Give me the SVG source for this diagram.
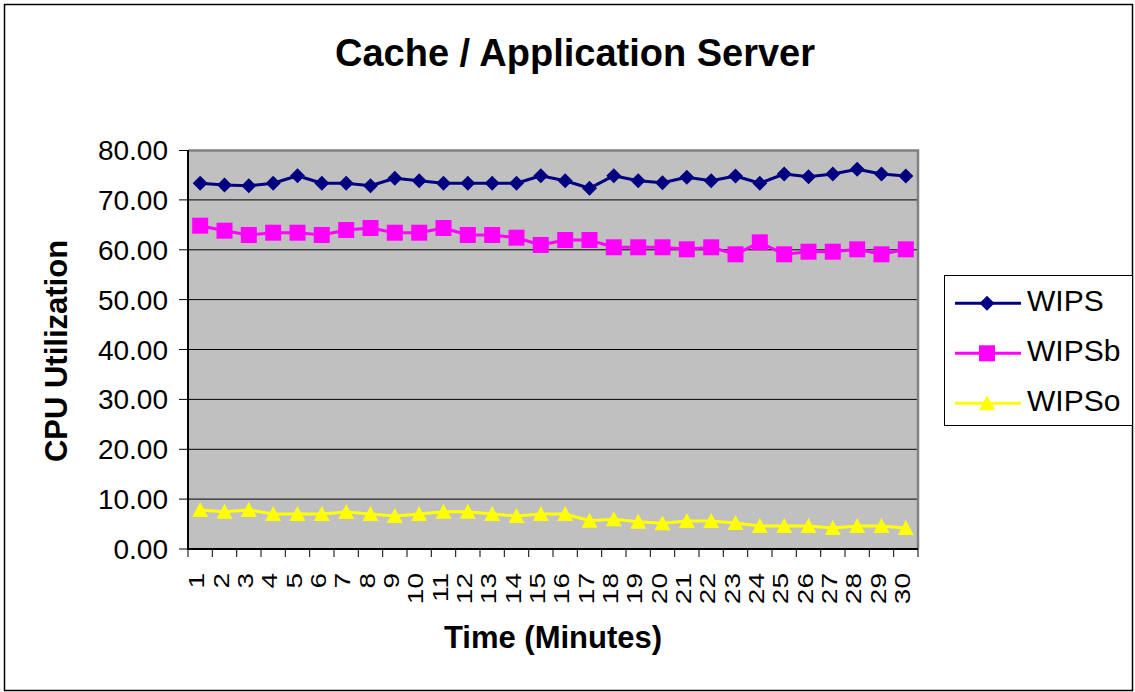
<svg xmlns="http://www.w3.org/2000/svg" xmlns:xlink="http://www.w3.org/1999/xlink" width="1135" height="692" viewBox="0 0 1135 692">
  <style>
    .t { font-family: "Liberation Sans", Arial, sans-serif; fill: #000; }
    .title { font-size: 38px; font-weight: bold; }
    .axt { font-size: 31px; font-weight: bold; }
    .ylab { font-size: 28px; text-anchor: end; }
    .xlab { font-size: 28px; text-anchor: end; }
    .leg { font-size: 30px; }
    .grid { stroke: #000; stroke-width: 1; }
    .tick { stroke: #000; stroke-width: 1; }
    .s1 { fill: none; stroke: #000080; stroke-width: 3; stroke-linejoin: round; }
    .s2 { fill: none; stroke: #FF00FF; stroke-width: 3; stroke-linejoin: round; }
    .s3 { fill: none; stroke: #FFFF00; stroke-width: 3; stroke-linejoin: round; }
  </style>
  <defs>
    <path id="diamond" d="M0,-7.5 L7.5,0 L0,7.5 L-7.5,0 Z" fill="#000080"/>
    <rect id="square" x="-8" y="-8" width="16" height="16" fill="#FF00FF"/>
    <path id="tri" d="M0,-8 L8,7 L-8,7 Z" fill="#FFFF00"/>
  </defs>

  <!-- chart frame -->
  <rect x="0" y="0" width="1135" height="692" fill="#fff"/>
  <rect x="4.5" y="4.5" width="1128" height="686" fill="#fff" stroke="#000" stroke-width="1.5"/>

  <!-- title -->
  <text class="t title" x="575" y="66" text-anchor="middle">Cache / Application Server</text>

  <!-- plot area -->
  <g id="plot-area">
    <rect x="188" y="150" width="730" height="399" fill="#C0C0C0"/>
    <g class="grid">
      <line x1="188" y1="199.9" x2="918" y2="199.9"/>
      <line x1="188" y1="249.8" x2="918" y2="249.8"/>
      <line x1="188" y1="299.6" x2="918" y2="299.6"/>
      <line x1="188" y1="349.5" x2="918" y2="349.5"/>
      <line x1="188" y1="399.4" x2="918" y2="399.4"/>
      <line x1="188" y1="449.3" x2="918" y2="449.3"/>
      <line x1="188" y1="499.1" x2="918" y2="499.1"/>
    </g>
    <path d="M188,150.5 H918 V549" fill="none" stroke="#808080" stroke-width="2.5"/>
  </g>

  <!-- axes -->
  <g id="y-axis">
    <line x1="188" y1="150" x2="188" y2="549.5" stroke="#000" stroke-width="2"/>
    <g class="tick">
      <line x1="179" y1="150.5" x2="188" y2="150.5"/>
      <line x1="179" y1="199.9" x2="188" y2="199.9"/>
      <line x1="179" y1="249.8" x2="188" y2="249.8"/>
      <line x1="179" y1="299.6" x2="188" y2="299.6"/>
      <line x1="179" y1="349.5" x2="188" y2="349.5"/>
      <line x1="179" y1="399.4" x2="188" y2="399.4"/>
      <line x1="179" y1="449.3" x2="188" y2="449.3"/>
      <line x1="179" y1="499.1" x2="188" y2="499.1"/>
      <line x1="179" y1="549" x2="188" y2="549"/>
    </g>
    <g class="t ylab">
      <text x="168" y="160">80.00</text>
      <text x="168" y="209.9">70.00</text>
      <text x="168" y="259.8">60.00</text>
      <text x="168" y="309.6">50.00</text>
      <text x="168" y="359.5">40.00</text>
      <text x="168" y="409.4">30.00</text>
      <text x="168" y="459.3">20.00</text>
      <text x="168" y="509.1">10.00</text>
      <text x="168" y="559">0.00</text>
    </g>
    <text class="t axt" transform="translate(67,351) rotate(-90)" text-anchor="middle">CPU Utilization</text>
  </g>

  <g id="x-axis">
    <line x1="187" y1="549" x2="918" y2="549" stroke="#000" stroke-width="2"/>
    <path class="tick" d="M188,549v8 M212.3,549v8 M236.7,549v8 M261,549v8 M285.3,549v8 M309.7,549v8 M334,549v8 M358.3,549v8 M382.7,549v8 M407,549v8 M431.3,549v8 M455.7,549v8 M480,549v8 M504.3,549v8 M528.7,549v8 M553,549v8 M577.3,549v8 M601.7,549v8 M626,549v8 M650.3,549v8 M674.7,549v8 M699,549v8 M723.3,549v8 M747.7,549v8 M772,549v8 M796.3,549v8 M820.7,549v8 M845,549v8 M869.3,549v8 M893.7,549v8 M918,549v8"/>
    <g class="t xlab">
      <text transform="translate(204.2,573) rotate(-90) scale(1,0.78)">1</text>
      <text transform="translate(228.5,573) rotate(-90) scale(1,0.78)">2</text>
      <text transform="translate(252.8,573) rotate(-90) scale(1,0.78)">3</text>
      <text transform="translate(277.2,573) rotate(-90) scale(1,0.78)">4</text>
      <text transform="translate(301.5,573) rotate(-90) scale(1,0.78)">5</text>
      <text transform="translate(325.8,573) rotate(-90) scale(1,0.78)">6</text>
      <text transform="translate(350.2,573) rotate(-90) scale(1,0.78)">7</text>
      <text transform="translate(374.5,573) rotate(-90) scale(1,0.78)">8</text>
      <text transform="translate(398.8,573) rotate(-90) scale(1,0.78)">9</text>
      <text transform="translate(423.2,573) rotate(-90) scale(1,0.78)">10</text>
      <text transform="translate(447.5,573) rotate(-90) scale(1,0.78)">11</text>
      <text transform="translate(471.8,573) rotate(-90) scale(1,0.78)">12</text>
      <text transform="translate(496.2,573) rotate(-90) scale(1,0.78)">13</text>
      <text transform="translate(520.5,573) rotate(-90) scale(1,0.78)">14</text>
      <text transform="translate(544.8,573) rotate(-90) scale(1,0.78)">15</text>
      <text transform="translate(569.2,573) rotate(-90) scale(1,0.78)">16</text>
      <text transform="translate(593.5,573) rotate(-90) scale(1,0.78)">17</text>
      <text transform="translate(617.8,573) rotate(-90) scale(1,0.78)">18</text>
      <text transform="translate(642.2,573) rotate(-90) scale(1,0.78)">19</text>
      <text transform="translate(666.5,573) rotate(-90) scale(1,0.78)">20</text>
      <text transform="translate(690.8,573) rotate(-90) scale(1,0.78)">21</text>
      <text transform="translate(715.2,573) rotate(-90) scale(1,0.78)">22</text>
      <text transform="translate(739.5,573) rotate(-90) scale(1,0.78)">23</text>
      <text transform="translate(763.8,573) rotate(-90) scale(1,0.78)">24</text>
      <text transform="translate(788.2,573) rotate(-90) scale(1,0.78)">25</text>
      <text transform="translate(812.5,573) rotate(-90) scale(1,0.78)">26</text>
      <text transform="translate(836.8,573) rotate(-90) scale(1,0.78)">27</text>
      <text transform="translate(861.2,573) rotate(-90) scale(1,0.78)">28</text>
      <text transform="translate(885.5,573) rotate(-90) scale(1,0.78)">29</text>
      <text transform="translate(909.8,573) rotate(-90) scale(1,0.78)">30</text>
    </g>
    <text class="t axt" x="553" y="648" text-anchor="middle">Time (Minutes)</text>
  </g>

  <!-- data series -->
  <g id="series-wips">
    <polyline class="s1" points="200.2,183.3 224.5,185 248.8,185.7 273.2,183.3 297.5,175.7 321.8,183.3 346.2,183.3 370.5,185.7 394.8,178.3 419.2,180.7 443.5,183.3 467.8,183.3 492.2,183.3 516.5,183.3 540.8,175.7 565.2,180.7 589.5,188.3 613.8,175.7 638.2,180.7 662.5,182.7 686.8,177.3 711.2,180.7 735.5,176 759.8,183.3 784.2,174 808.5,176.7 832.8,174 857.2,169.3 881.5,174 905.8,176"/>
    <use xlink:href="#diamond" x="200.2" y="183.3"/><use xlink:href="#diamond" x="224.5" y="185"/>
    <use xlink:href="#diamond" x="248.8" y="185.7"/><use xlink:href="#diamond" x="273.2" y="183.3"/>
    <use xlink:href="#diamond" x="297.5" y="175.7"/><use xlink:href="#diamond" x="321.8" y="183.3"/>
    <use xlink:href="#diamond" x="346.2" y="183.3"/><use xlink:href="#diamond" x="370.5" y="185.7"/>
    <use xlink:href="#diamond" x="394.8" y="178.3"/><use xlink:href="#diamond" x="419.2" y="180.7"/>
    <use xlink:href="#diamond" x="443.5" y="183.3"/><use xlink:href="#diamond" x="467.8" y="183.3"/>
    <use xlink:href="#diamond" x="492.2" y="183.3"/><use xlink:href="#diamond" x="516.5" y="183.3"/>
    <use xlink:href="#diamond" x="540.8" y="175.7"/><use xlink:href="#diamond" x="565.2" y="180.7"/>
    <use xlink:href="#diamond" x="589.5" y="188.3"/><use xlink:href="#diamond" x="613.8" y="175.7"/>
    <use xlink:href="#diamond" x="638.2" y="180.7"/><use xlink:href="#diamond" x="662.5" y="182.7"/>
    <use xlink:href="#diamond" x="686.8" y="177.3"/><use xlink:href="#diamond" x="711.2" y="180.7"/>
    <use xlink:href="#diamond" x="735.5" y="176"/><use xlink:href="#diamond" x="759.8" y="183.3"/>
    <use xlink:href="#diamond" x="784.2" y="174"/><use xlink:href="#diamond" x="808.5" y="176.7"/>
    <use xlink:href="#diamond" x="832.8" y="174"/><use xlink:href="#diamond" x="857.2" y="169.3"/>
    <use xlink:href="#diamond" x="881.5" y="174"/><use xlink:href="#diamond" x="905.8" y="176"/>
  </g>

  <g id="series-wipsb">
    <polyline class="s2" points="200.2,225.7 224.5,230.7 248.8,235 273.2,232.7 297.5,232.7 321.8,235 346.2,230 370.5,228 394.8,232.7 419.2,232.7 443.5,228 467.8,235 492.2,235 516.5,237.7 540.8,245 565.2,240 589.5,240 613.8,247.3 638.2,247.3 662.5,247.3 686.8,249.3 711.2,247.3 735.5,254.3 759.8,242.3 784.2,254.3 808.5,251.7 832.8,251.7 857.2,249.3 881.5,254.3 905.8,249.3"/>
    <use xlink:href="#square" x="200.2" y="225.7"/><use xlink:href="#square" x="224.5" y="230.7"/>
    <use xlink:href="#square" x="248.8" y="235"/><use xlink:href="#square" x="273.2" y="232.7"/>
    <use xlink:href="#square" x="297.5" y="232.7"/><use xlink:href="#square" x="321.8" y="235"/>
    <use xlink:href="#square" x="346.2" y="230"/><use xlink:href="#square" x="370.5" y="228"/>
    <use xlink:href="#square" x="394.8" y="232.7"/><use xlink:href="#square" x="419.2" y="232.7"/>
    <use xlink:href="#square" x="443.5" y="228"/><use xlink:href="#square" x="467.8" y="235"/>
    <use xlink:href="#square" x="492.2" y="235"/><use xlink:href="#square" x="516.5" y="237.7"/>
    <use xlink:href="#square" x="540.8" y="245"/><use xlink:href="#square" x="565.2" y="240"/>
    <use xlink:href="#square" x="589.5" y="240"/><use xlink:href="#square" x="613.8" y="247.3"/>
    <use xlink:href="#square" x="638.2" y="247.3"/><use xlink:href="#square" x="662.5" y="247.3"/>
    <use xlink:href="#square" x="686.8" y="249.3"/><use xlink:href="#square" x="711.2" y="247.3"/>
    <use xlink:href="#square" x="735.5" y="254.3"/><use xlink:href="#square" x="759.8" y="242.3"/>
    <use xlink:href="#square" x="784.2" y="254.3"/><use xlink:href="#square" x="808.5" y="251.7"/>
    <use xlink:href="#square" x="832.8" y="251.7"/><use xlink:href="#square" x="857.2" y="249.3"/>
    <use xlink:href="#square" x="881.5" y="254.3"/><use xlink:href="#square" x="905.8" y="249.3"/>
  </g>

  <g id="series-wipso">
    <polyline class="s3" points="200.2,510 224.5,511.7 248.8,510 273.2,514 297.5,514 321.8,514 346.2,512 370.5,514 394.8,516 419.2,514 443.5,511.7 467.8,511.7 492.2,514 516.5,516 540.8,514 565.2,514 589.5,520.7 613.8,519.3 638.2,521.7 662.5,523.3 686.8,521 711.2,521 735.5,523 759.8,526 784.2,526 808.5,526 832.8,528 857.2,526 881.5,526 905.8,528"/>
    <use xlink:href="#tri" x="200.2" y="510"/><use xlink:href="#tri" x="224.5" y="511.7"/>
    <use xlink:href="#tri" x="248.8" y="510"/><use xlink:href="#tri" x="273.2" y="514"/>
    <use xlink:href="#tri" x="297.5" y="514"/><use xlink:href="#tri" x="321.8" y="514"/>
    <use xlink:href="#tri" x="346.2" y="512"/><use xlink:href="#tri" x="370.5" y="514"/>
    <use xlink:href="#tri" x="394.8" y="516"/><use xlink:href="#tri" x="419.2" y="514"/>
    <use xlink:href="#tri" x="443.5" y="511.7"/><use xlink:href="#tri" x="467.8" y="511.7"/>
    <use xlink:href="#tri" x="492.2" y="514"/><use xlink:href="#tri" x="516.5" y="516"/>
    <use xlink:href="#tri" x="540.8" y="514"/><use xlink:href="#tri" x="565.2" y="514"/>
    <use xlink:href="#tri" x="589.5" y="520.7"/><use xlink:href="#tri" x="613.8" y="519.3"/>
    <use xlink:href="#tri" x="638.2" y="521.7"/><use xlink:href="#tri" x="662.5" y="523.3"/>
    <use xlink:href="#tri" x="686.8" y="521"/><use xlink:href="#tri" x="711.2" y="521"/>
    <use xlink:href="#tri" x="735.5" y="523"/><use xlink:href="#tri" x="759.8" y="526"/>
    <use xlink:href="#tri" x="784.2" y="526"/><use xlink:href="#tri" x="808.5" y="526"/>
    <use xlink:href="#tri" x="832.8" y="528"/><use xlink:href="#tri" x="857.2" y="526"/>
    <use xlink:href="#tri" x="881.5" y="526"/><use xlink:href="#tri" x="905.8" y="528"/>
  </g>

  <!-- legend -->
  <g id="legend">
    <rect x="944.5" y="275.5" width="188" height="150" fill="#fff" stroke="#000" stroke-width="1"/>
    <line class="s1" x1="955" y1="303.3" x2="1021" y2="303.3"/>
    <use xlink:href="#diamond" x="987" y="303.3"/>
    <text class="t leg" x="1027" y="311">WIPS</text>
    <line class="s2" x1="955" y1="353.3" x2="1021" y2="353.3"/>
    <use xlink:href="#square" x="987" y="353.3"/>
    <text class="t leg" x="1027" y="361">WIPSb</text>
    <line class="s3" x1="955" y1="403.3" x2="1021" y2="403.3"/>
    <use xlink:href="#tri" x="987" y="403.3"/>
    <text class="t leg" x="1027" y="411">WIPSo</text>
  </g>
</svg>
